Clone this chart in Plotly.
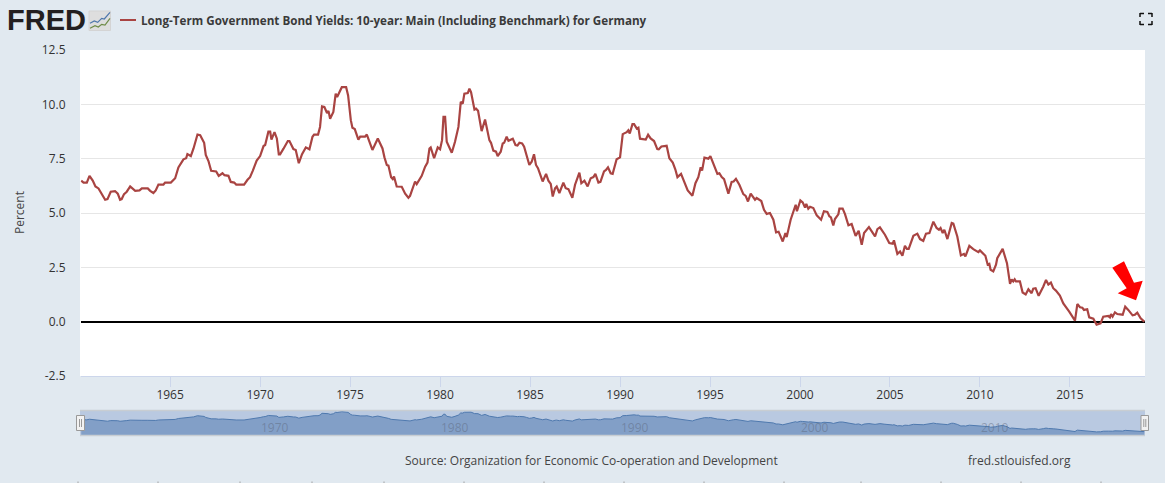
import plotly.graph_objects as go

years = [1960.06,1960.19,1960.37,1960.52,1960.70,1960.85,1961.02,1961.20,1961.39,1961.52,1961.70,1961.94,1962.09,1962.22,1962.31,1962.44,1962.59,1962.78,1963.06,1963.30,1963.43,1963.76,1963.89,1964.07,1964.20,1964.35,1964.63,1964.72,1965.04,1965.28,1965.46,1965.74,1965.89,1965.96,1966.15,1966.30,1966.52,1966.67,1966.89,1966.98,1967.13,1967.28,1967.56,1967.70,1967.91,1968.02,1968.24,1968.37,1968.56,1968.67,1969.11,1969.30,1969.44,1969.59,1969.81,1970.00,1970.19,1970.28,1970.46,1970.56,1970.63,1970.80,1970.93,1971.04,1971.11,1971.30,1971.54,1971.63,1971.85,1971.98,1972.15,1972.33,1972.54,1972.74,1972.91,1973.00,1973.22,1973.33,1973.44,1973.57,1973.72,1973.80,1973.89,1974.07,1974.20,1974.28,1974.54,1974.78,1974.89,1975.04,1975.13,1975.26,1975.46,1975.56,1975.83,1975.93,1976.11,1976.24,1976.54,1976.80,1976.91,1977.04,1977.13,1977.28,1977.37,1977.44,1977.59,1977.87,1978.06,1978.24,1978.33,1978.61,1978.70,1978.98,1979.17,1979.30,1979.41,1979.48,1979.67,1979.87,1980.00,1980.11,1980.19,1980.28,1980.37,1980.65,1980.83,1981.02,1981.15,1981.26,1981.35,1981.54,1981.63,1981.72,1981.91,1982.00,1982.11,1982.31,1982.50,1982.74,1982.83,1982.96,1983.11,1983.20,1983.37,1983.48,1983.56,1983.70,1983.80,1983.93,1984.04,1984.19,1984.30,1984.41,1984.56,1984.67,1984.81,1984.96,1985.09,1985.22,1985.33,1985.44,1985.70,1985.89,1986.02,1986.15,1986.26,1986.39,1986.48,1986.63,1986.85,1986.98,1987.13,1987.35,1987.50,1987.74,1987.85,1988.02,1988.20,1988.37,1988.52,1988.63,1988.80,1988.91,1989.11,1989.22,1989.33,1989.48,1989.59,1989.81,1990.00,1990.15,1990.37,1990.46,1990.54,1990.69,1990.78,1990.93,1991.02,1991.11,1991.43,1991.56,1991.70,1991.89,1992.07,1992.15,1992.30,1992.59,1992.74,1992.93,1993.07,1993.19,1993.39,1993.52,1993.76,1994.02,1994.19,1994.35,1994.48,1994.56,1994.69,1994.91,1995.02,1995.41,1995.52,1995.65,1995.78,1996.02,1996.20,1996.31,1996.44,1996.63,1996.85,1996.98,1997.11,1997.26,1997.50,1997.59,1997.85,1998.00,1998.15,1998.33,1998.52,1998.67,1998.81,1999.04,1999.19,1999.26,1999.48,1999.76,1999.83,2000.02,2000.15,2000.28,2000.35,2000.46,2000.56,2000.74,2000.93,2001.17,2001.33,2001.52,2001.63,2001.72,2001.85,2001.94,2002.13,2002.19,2002.37,2002.50,2002.69,2002.87,2003.09,2003.26,2003.43,2003.56,2003.83,2004.17,2004.30,2004.44,2004.72,2004.96,2005.15,2005.22,2005.41,2005.56,2005.69,2005.83,2005.94,2006.04,2006.30,2006.52,2006.67,2006.85,2007.00,2007.19,2007.41,2007.59,2007.72,2007.81,2007.93,2008.02,2008.19,2008.43,2008.52,2008.74,2008.94,2009.11,2009.19,2009.41,2009.63,2009.91,2010.00,2010.30,2010.43,2010.52,2010.59,2010.74,2010.89,2010.96,2011.15,2011.26,2011.50,2011.67,2011.76,2011.85,2011.93,2012.00,2012.22,2012.37,2012.54,2012.69,2012.87,2012.96,2013.09,2013.26,2013.52,2013.67,2013.80,2013.94,2014.07,2014.22,2014.44,2014.63,2014.96,2015.15,2015.28,2015.41,2015.56,2015.69,2015.78,2015.96,2016.07,2016.30,2016.48,2016.70,2016.85,2017.13,2017.22,2017.28,2017.37,2017.50,2017.63,2017.93,2018.07,2018.24,2018.48,2018.61,2018.74,2018.93,2019.13]
yields = [6.49,6.40,6.40,6.71,6.49,6.22,6.13,5.89,5.61,5.64,5.98,6.01,5.89,5.61,5.64,5.87,5.98,6.22,6.02,6.04,6.13,6.13,6.02,5.92,6.04,6.31,6.31,6.40,6.40,6.60,7.10,7.47,7.52,7.71,7.62,7.97,8.61,8.58,8.23,7.67,7.39,6.94,6.91,6.71,6.83,6.74,6.71,6.43,6.40,6.31,6.31,6.53,6.65,6.94,7.41,7.62,8.08,8.13,8.74,8.74,8.38,8.72,8.43,7.70,7.70,7.96,8.31,8.31,7.94,7.90,7.29,7.71,8.02,7.93,8.51,8.61,8.61,8.96,9.91,9.88,9.60,9.70,9.34,9.65,10.49,10.34,10.79,10.79,10.41,9.27,8.92,8.86,8.38,8.51,8.51,8.61,8.23,7.90,8.43,7.97,7.56,7.21,7.18,6.65,6.56,6.68,6.22,6.21,5.89,5.70,5.79,6.45,6.33,6.71,7.13,7.32,7.97,8.02,7.52,8.02,7.93,8.35,9.42,9.42,8.28,7.77,8.28,8.96,10.11,10.03,10.49,10.52,10.72,10.56,9.76,9.80,9.70,8.77,9.30,8.35,8.23,7.87,7.82,7.62,7.82,8.20,8.23,8.51,8.32,8.38,8.42,8.13,8.11,8.23,8.20,8.05,7.67,7.21,7.36,7.70,7.21,7.06,6.45,6.80,6.49,6.34,5.76,6.14,6.22,5.92,6.40,6.14,6.10,5.70,6.30,6.86,6.37,6.49,6.22,6.60,6.65,6.80,6.40,6.43,6.91,6.98,7.10,6.83,6.80,7.47,7.56,8.63,8.72,8.81,8.66,9.09,9.09,8.89,8.93,8.42,8.38,8.60,8.43,8.31,7.94,7.93,8.06,8.09,7.52,7.32,7.01,6.65,6.80,6.53,6.04,5.79,6.37,6.65,7.10,6.95,7.55,7.50,7.62,6.80,6.83,6.65,6.56,5.89,6.43,6.45,6.57,6.30,5.87,5.79,5.53,5.89,5.61,5.69,5.55,5.15,4.96,5.00,4.69,4.11,4.14,3.69,4.08,3.89,4.69,5.38,5.08,5.58,5.49,5.25,5.42,5.20,5.29,5.23,4.89,4.69,5.08,5.05,4.85,4.80,4.43,4.72,4.94,5.20,5.20,4.95,4.43,4.49,3.95,4.18,3.54,4.08,4.35,3.92,4.26,4.34,4.00,3.62,3.59,3.74,3.12,3.23,3.03,3.49,3.35,3.35,3.95,4.05,3.80,3.72,4.05,4.08,4.60,4.31,4.23,4.31,4.08,4.23,3.80,4.54,4.51,3.92,3.05,3.12,3.00,3.49,3.34,3.20,3.28,3.03,2.62,2.66,2.39,2.31,2.62,2.92,3.23,3.35,2.69,1.74,1.95,1.85,1.95,1.85,1.85,1.34,1.25,1.49,1.31,1.52,1.54,1.19,1.62,1.92,1.71,1.80,1.54,1.43,1.20,0.84,0.46,0.20,0.05,0.81,0.66,0.64,0.54,0.57,0.20,0.14,-0.14,-0.08,0.23,0.26,0.20,0.35,0.23,0.43,0.35,0.32,0.69,0.54,0.29,0.32,0.41,0.15,0.00]
x_ticks = [1965,1970,1975,1980,1985,1990,1995,2000,2005,2010,2015]
y_ticks = [-2.5,0,2.5,5,7.5,10,12.5]
y_labels = ["-2.5","0.0","2.5","5.0","7.5","10.0","12.5"]
nav_labels = [1970,1980,1990,2000,2010]
title = "Long-Term Government Bond Yields: 10-year: Main (Including Benchmark) for Germany"
source = "Source: Organization for Economic Co-operation and Development"
site = "fred.stlouisfed.org"

W, H = 1165, 483
FONT = "Open Sans"
BG = "#E1E9F0"
LINE = "#A94442"

def px(x): return x / W
def py(y): return 1 - y / H
def path(pts, close=True):
    return "M" + "L".join(f"{px(a):.5f},{py(b):.5f}" for a, b in pts) + ("Z" if close else "")
def rect(x0, y0, x1, y1, fill, line=None, lw=1):
    return dict(type="rect", xref="paper", yref="paper", x0=px(x0), x1=px(x1), y0=py(y0), y1=py(y1),
                fillcolor=fill, line=dict(color=line or fill, width=lw if line else 0))
def seg(x0, y0, x1, y1, color, lw=1):
    return dict(type="line", xref="paper", yref="paper", x0=px(x0), x1=px(x1), y0=py(y0), y1=py(y1),
                line=dict(color=color, width=lw))
def poly(pts, fill=None, line=None, lw=1):
    d = dict(type="path", xref="paper", yref="paper", path=path(pts, close=bool(fill)), line=dict(color=line or fill, width=lw if line else 0))
    d["fillcolor"] = fill if fill else "rgba(0,0,0,0)"
    return d
def label(x, y, text, size=13, color="#444444", anchor="left", bold=False, family=FONT):
    return dict(xref="paper", yref="paper", x=px(x), y=py(y), text=f"<b>{text}</b>" if bold else text,
                showarrow=False, xanchor=anchor, yanchor="middle",
                font=dict(family=family, size=size, color=color))

nav_bottom = -2.2
nav_floor = [nav_bottom for _ in years]

fig = go.Figure()
fig.add_trace(go.Scatter(x=years, y=yields, mode="lines", line=dict(color=LINE, width=2.2), xaxis="x", yaxis="y", hoverinfo="skip"))
fig.add_trace(go.Scatter(x=years, y=nav_floor, mode="lines", line=dict(width=0), xaxis="x2", yaxis="y2", hoverinfo="skip"))
fig.add_trace(go.Scatter(x=years, y=yields, mode="lines", fill="tonexty", fillcolor="#829FC7",
                         line=dict(color="#4F79AE", width=1), xaxis="x2", yaxis="y2", hoverinfo="skip"))

shapes = [
    rect(80, 50, 1145, 376, "#FFFFFF") | dict(layer="below"),
    rect(80, 410, 1145, 436, "#B9C9E1") | dict(layer="below"),
    # navigator frame and handles
    seg(80, 410.5, 1145, 410.5, "#C8CDD2", 1.5),
    seg(80, 435.5, 1145, 435.5, "#C8CDD2", 1.5),
    rect(76.5, 415.5, 84.5, 430.5, "#F2F2F2", "#999999", 1),
    seg(79.5, 419, 79.5, 427, "#999999", 1), seg(81.5, 419, 81.5, 427, "#999999", 1),
    rect(1141, 415.5, 1148.5, 430.5, "#F2F2F2", "#999999", 1),
    seg(1143.8, 419, 1143.8, 427, "#999999", 1), seg(1145.8, 419, 1145.8, 427, "#999999", 1),
    # red arrow
    poly([(1112.3, 267.7), (1124, 261.3), (1134, 282.7), (1142.7, 280.7), (1136, 300.3), (1117.7, 293.3), (1126.7, 288.3)], "#FF0000"),
    # legend key
    seg(120, 20, 136, 20, "#A94442", 2),
    # logo icon
    rect(89, 11, 110.5, 30.5, "#DEDEDE", "#D4D4D4", 1),
    poly([(90, 23.3), (94.3, 21), (97.7, 22.3), (101.7, 18.3), (104.3, 19), (110, 12.3)], None, "#4F78AC", 1.2),
    poly([(90, 28.3), (95, 25.7), (98.3, 27), (101.7, 24.3), (105, 25), (110, 18.3)], None, "#6F8C48", 1.2),
    # fullscreen icon
    seg(1140, 13.5, 1144, 13.5, "#111111", 1.5), seg(1140, 13, 1140, 17, "#111111", 1.5),
    seg(1148, 13.5, 1152, 13.5, "#111111", 1.5), seg(1152, 13, 1152, 17, "#111111", 1.5),
    seg(1140, 24.5, 1144, 24.5, "#111111", 1.5), seg(1140, 21, 1140, 25, "#111111", 1.5),
    seg(1148, 24.5, 1152, 24.5, "#111111", 1.5), seg(1152, 21, 1152, 25, "#111111", 1.5),
]
for tx in [78,158,240,312,384,464,544,624,704,784,861,941,1021,1101]:
    shapes.append(seg(tx, 481.5, tx, 483, "#A0A0A0", 1))

annotations = [
    label(5, 20.5, "FRED", size=29, color="#231F20", bold=True, family="Liberation Sans"),
    label(139, 20.5, title, size=11.66, color="#3A3A3A", bold=True),
    label(19, 213, "Percent", size=12, color="#444444", anchor="center") | dict(textangle=-90),
    label(403, 460, source, size=12, color="#444444"),
    label(966, 460, site, size=12, color="#444444"),
]
for yr in nav_labels:
    annotations.append(dict(xref="x2", yref="paper", x=yr, y=py(427), text=str(yr), showarrow=False,
                            xshift=15, xanchor="center", yanchor="middle",
                            font=dict(family=FONT, size=12, color="rgba(90,100,120,0.45)")))

fig.update_layout(
    width=W, height=H, margin=dict(l=0, r=0, t=0, b=0, autoexpand=False), autosize=False,
    paper_bgcolor=BG, plot_bgcolor="rgba(0,0,0,0)", showlegend=False,
    font=dict(family=FONT, size=12, color="#333333"),
    xaxis=dict(domain=[px(80.5), px(1145)], range=[1960.02, 2019.17], anchor="y", tickmode="array",
               tickvals=x_ticks, ticktext=[str(t) for t in x_ticks], ticks="outside", ticklen=10, tickcolor="#CCD6EB",
               tickwidth=1, showgrid=False, showline=True, linecolor="#CCD6EB", linewidth=1, zeroline=False,
               ticklabelstandoff=-2, tickfont=dict(family=FONT, size=12, color="#333333")),
    yaxis=dict(domain=[py(376), py(50)], range=[-2.5, 12.5], anchor="x", tickmode="array", tickvals=y_ticks,
               ticktext=y_labels, showgrid=True, gridcolor="#E6E6E6", gridwidth=1, zeroline=True, zerolinecolor="#000000",
               zerolinewidth=2, showline=False, ticks="", ticklabelstandoff=14,
               tickfont=dict(family=FONT, size=12, color="#333333")),
    xaxis2=dict(domain=[px(80.5), px(1145)], range=[1960.02, 2019.17], anchor="y2", visible=False),
    yaxis2=dict(domain=[py(435.7), py(410)], range=[nav_bottom, 11.7], anchor="x2", visible=False),
    shapes=shapes, annotations=annotations,
)

fig.write_html("out.html", post_script="document.body.style.margin='0';document.body.style.overflow='hidden';",
               config={"displayModeBar": False})
